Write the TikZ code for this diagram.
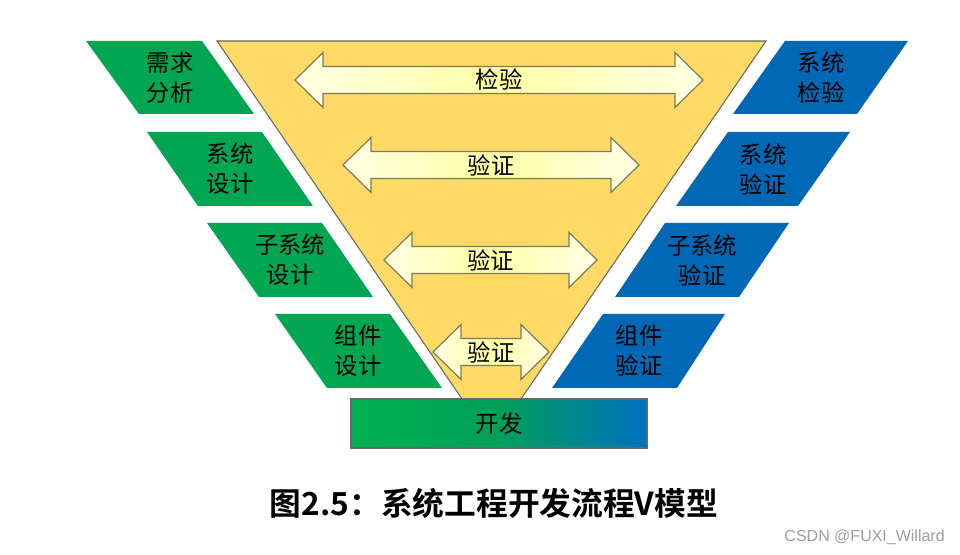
\documentclass[tikz,border=0pt]{standalone}
\usepackage{fontspec}
\setmainfont{Liberation Sans}
\newfontfamily\cjk{Noto Sans CJK SC}
\newfontfamily\cjkb{Noto Sans CJK SC Bold}
\definecolor{vgreen}{HTML}{00A651}
\definecolor{vblue}{HTML}{0068B5}
\definecolor{vgreenL}{HTML}{00B050}
\definecolor{vblueL}{HTML}{0070C0}
\definecolor{vmid}{HTML}{00A058}
\definecolor{vyellow}{HTML}{FFD966}
\definecolor{vedge}{HTML}{5E6B68}
\definecolor{arrowedge}{HTML}{7A7A5C}
\definecolor{arrowmid}{HTML}{FFFFA6}
\definecolor{arrowend}{HTML}{FFFFE4}
\tikzset{
  greenpara/.style={fill=vgreen},
  bluepara/.style={fill=vblue},
  lbl/.style={font=\cjk\fontsize{17.5}{22.5}\selectfont, align=center, inner sep=0pt, text=black},
  arrowfill/.style={draw=arrowedge, line width=0.9pt, line join=miter, left color=arrowend, right color=arrowend, middle color=arrowmid},
}
\newcommand\VArrow[3]{%
  \path[arrowfill] (#1,#3) -- ({#1+28},{#3-27.5}) -- ({#1+28},{#3-13.5}) -- ({#2-28},{#3-13.5}) -- ({#2-28},{#3-27.5}) -- (#2,#3) -- ({#2-28},{#3+27.5}) -- ({#2-28},{#3+13.5}) -- ({#1+28},{#3+13.5}) -- ({#1+28},{#3+27.5}) -- cycle;
}
\begin{document}
\begin{tikzpicture}[x=0.75pt,y=-0.75pt]
\path[use as bounding box, fill=white] (0,0) rectangle (960,555);
% V triangle
\path[fill=vyellow, draw=vedge, line width=0.8pt] (217,41) -- (766,41) -- (491.5,442) -- cycle;
% green parallelograms
\path[greenpara] (86,41) -- (202,41) -- (254,114) -- (139,114) -- cycle;
\node[lbl] (g1) at (170,78) {需求\\分析};
\path[greenpara] (147,132) -- (262,132) -- (313,206) -- (198,206) -- cycle;
\node[lbl] (g2) at (230,169) {系统\\设计};
\path[greenpara] (207,223) -- (322,223) -- (373,297) -- (259,297) -- cycle;
\node[lbl] (g3) at (290,260) {子系统\\设计};
\path[greenpara] (275,314) -- (390,314) -- (442,388) -- (327,388) -- cycle;
\node[lbl] (g4) at (358,351) {组件\\设计};
% blue parallelograms
\path[bluepara] (785,41) -- (908,41) -- (857,114) -- (733,114) -- cycle;
\node[lbl] (b1) at (821,78) {系统\\检验};
\path[bluepara] (728,132) -- (850,132) -- (798,206) -- (676,206) -- cycle;
\node[lbl] (b2) at (763,169) {系统\\验证};
\path[bluepara] (665,223) -- (789,223) -- (739,297) -- (615,297) -- cycle;
\node[lbl] (b3) at (702,260) {子系统\\验证};
\path[bluepara] (603,314) -- (725,314) -- (677,388) -- (552,388) -- cycle;
\node[lbl] (b4) at (639,351) {组件\\验证};
% double arrows
\VArrow{295}{703}{80}
\node[lbl] (a1) at (499,80) {检验};
\VArrow{343}{639}{165}
\node[lbl] (a2) at (491,165) {验证};
\VArrow{384}{597}{260}
\node[lbl] (a3) at (490.5,260) {验证};
\VArrow{433}{549}{352}
\node[lbl] (a4) at (491,352) {验证};
% development box
\path[left color=vgreenL, right color=vblueL, middle color=vmid, draw=vedge, line width=0.8pt] (351,399) rectangle (647,448);
\node[lbl] (dev) at (499,424) {开发};
% caption
\node[font=\cjkb\fontsize{23.8}{28}\selectfont, inner sep=0pt] (cap) at (494,503) {图2.5：系统工程开发流程V模型};
% watermark
\node[font=\fontsize{12}{14}\selectfont, text=black!38, inner sep=0pt, anchor=east] (wm) at (945,537) {CSDN @FUXI\_Willard};
\end{tikzpicture}
\end{document}
